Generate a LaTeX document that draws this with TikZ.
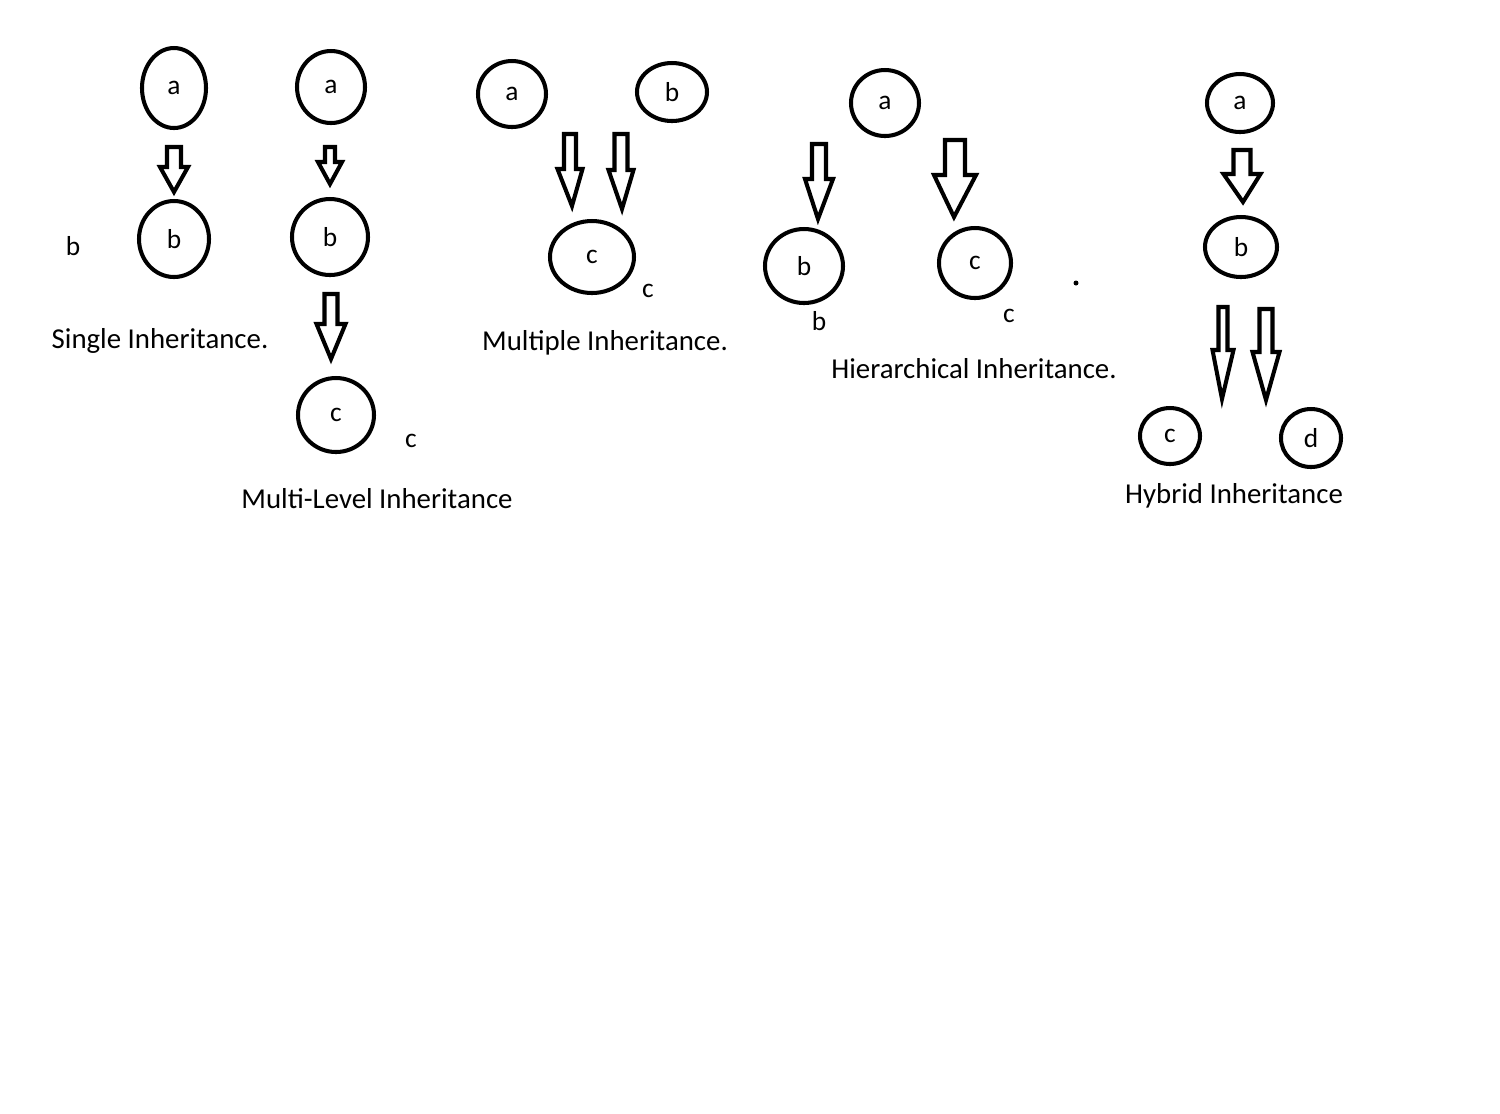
\documentclass[tikz,border=0pt]{standalone}
\usepackage{fontspec}
\setmainfont{Carlito}
\usetikzlibrary{shapes.geometric,calc}

\tikzset{
  cls/.style 2 args={ellipse, draw, line width=1.15pt, inner sep=0pt, minimum width=#1, minimum height=#2, font=\fontsize{7.8}{9}\selectfont},
  tag/.style={inner sep=0pt, font=\fontsize{7.8}{9}\selectfont},
  caption/.style={inner sep=0pt, font=\fontsize{8.2}{10}\selectfont},
  blockline/.style={line width=1.15pt, line join=miter}
}
\newcommand{\blockarrow}[5]{%
  \draw[blockline] let \p1=(#1), \p2=(#2) in
    (\x1-#3cm,\y1) -- (\x1+#3cm,\y1) -- (\x1+#3cm,\y2+#5cm) -- (\x1+#4cm,\y2+#5cm)
    -- (\x2,\y2) -- (\x1-#4cm,\y2+#5cm) -- (\x1-#3cm,\y2+#5cm) -- cycle;}

\begin{document}
\begin{tikzpicture}
\path[use as bounding box] (0,0) rectangle (15,-11.13);
\node[cls={0.64cm}{0.80cm}] (A1) at (1.74,-0.88) {a};
\node[cls={0.70cm}{0.76cm}] (B1) at (1.74,-2.39) {b};
\node[tag] (T1) at (0.73,-2.46) {b};
\node[caption] (L1) at (1.60,-3.41) {Single Inheritance.};
\coordinate (S1t) at (1.74,-1.47);
\coordinate (S1h) at (1.74,-1.92);
\blockarrow{S1t}{S1h}{0.07}{0.14}{0.25}

\node[cls={0.68cm}{0.72cm}] (A2) at (3.31,-0.87) {a};
\node[cls={0.76cm}{0.76cm}] (B2) at (3.30,-2.37) {b};
\node[cls={0.76cm}{0.74cm}] (C2) at (3.36,-4.15) {c};
\node[tag] (T2) at (4.11,-4.41) {c};
\node[caption] (L2) at (3.77,-4.99) {Multi-Level Inheritance};
\coordinate (M1t) at (3.30,-1.47);
\coordinate (M1h) at (3.30,-1.84);
\coordinate (M2t) at (3.31,-2.94);
\coordinate (M2h) at (3.31,-3.59);
\blockarrow{M1t}{M1h}{0.05}{0.12}{0.22}
\blockarrow{M2t}{M2h}{0.065}{0.145}{0.35}

\node[cls={0.68cm}{0.66cm}] (A3) at (5.12,-0.94) {a};
\node[cls={0.70cm}{0.58cm}] (B3) at (6.72,-0.92) {b};
\node[cls={0.84cm}{0.72cm}] (C3) at (5.92,-2.57) {c};
\node[tag] (T3) at (6.48,-2.91) {c};
\node[caption] (L3) at (6.05,-3.43) {Multiple Inheritance.};
\coordinate (P1t) at (5.70,-1.34);
\coordinate (P1h) at (5.72,-2.06);
\coordinate (P2t) at (6.21,-1.34);
\coordinate (P2h) at (6.22,-2.09);
\blockarrow{P1t}{P1h}{0.06}{0.125}{0.37}
\blockarrow{P2t}{P2h}{0.065}{0.125}{0.39}

\node[cls={0.68cm}{0.66cm}] (A4) at (8.85,-1.03) {a};
\node[cls={0.78cm}{0.74cm}] (B4) at (8.04,-2.66) {b};
\node[cls={0.72cm}{0.70cm}] (C4) at (9.75,-2.63) {c};
\node[tag] (T4) at (8.19,-3.21) {b};
\node[tag] (T5) at (10.09,-3.16) {c};
\node[circle, fill=black, inner sep=0pt, minimum size=0.05cm] (dot) at (10.76,-2.83) {};
\node[caption] (L4) at (9.74,-3.69) {Hierarchical Inheritance.};
\coordinate (H1t) at (8.19,-1.44);
\coordinate (H1h) at (8.18,-2.19);
\coordinate (H2t) at (9.55,-1.40);
\coordinate (H2h) at (9.54,-2.17);
\blockarrow{H1t}{H1h}{0.07}{0.14}{0.40}
\blockarrow{H2t}{H2h}{0.10}{0.21}{0.42}

\node[cls={0.66cm}{0.58cm}] (A5) at (12.40,-1.03) {a};
\node[cls={0.72cm}{0.60cm}] (B5) at (12.41,-2.47) {b};
\node[cls={0.60cm}{0.56cm}] (C5) at (11.70,-4.36) {c};
\node[cls={0.60cm}{0.58cm}] (D5) at (13.11,-4.38) {d};
\node[caption] (L5) at (12.34,-4.96) {Hybrid Inheritance};
\coordinate (Y1t) at (12.42,-1.50);
\coordinate (Y1h) at (12.43,-2.02);
\coordinate (Y2t) at (12.23,-3.07);
\coordinate (Y2h) at (12.22,-3.99);
\coordinate (Y3t) at (12.66,-3.09);
\coordinate (Y3h) at (12.66,-4.00);
\blockarrow{Y1t}{Y1h}{0.085}{0.185}{0.28}
\blockarrow{Y2t}{Y2h}{0.045}{0.105}{0.49}
\blockarrow{Y3t}{Y3h}{0.065}{0.135}{0.48}
\end{tikzpicture}
\end{document}
